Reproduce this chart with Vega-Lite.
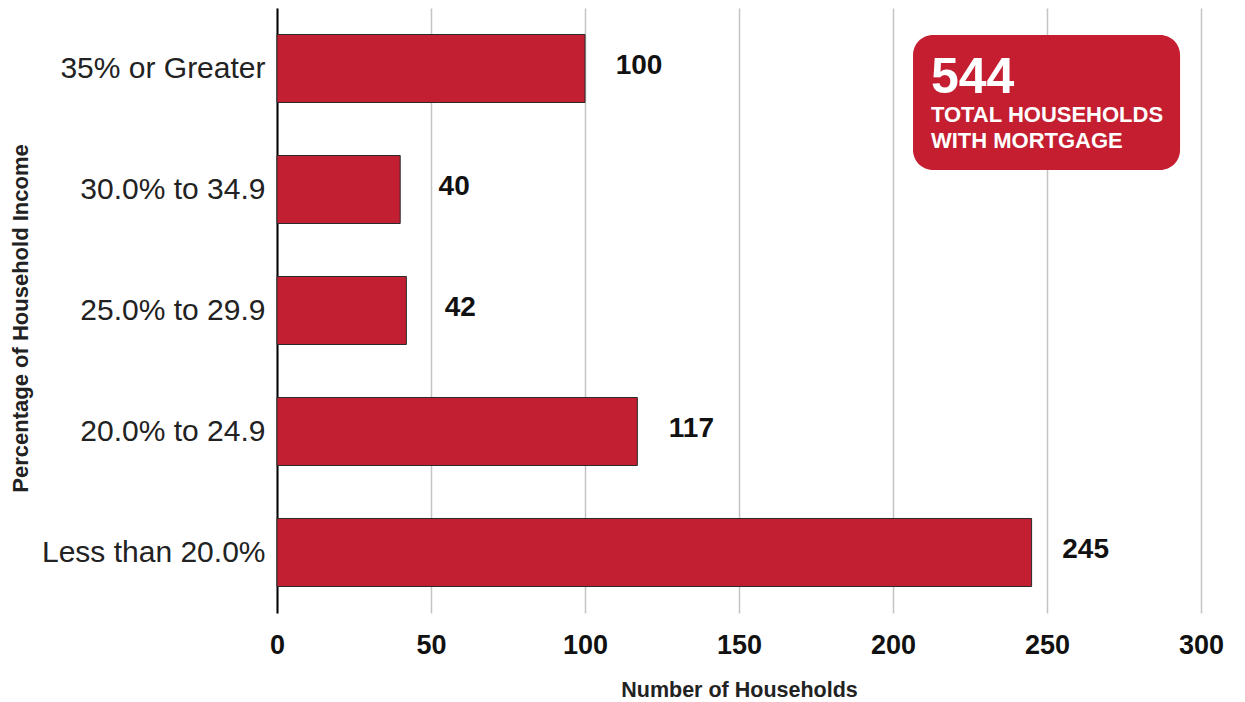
{
  "$schema": "https://vega.github.io/schema/vega-lite/v6.json",
  "width": 924,
  "height": 605,
  "autosize": {"type": "none"},
  "padding": {"left": 277, "top": 8, "right": 44, "bottom": 89},
  "background": "white",
  "config": {"view": {"stroke": null}, "font": "Liberation Sans"},
  "data": {
    "values": [
      {"range": "35% or Greater", "households": 100},
      {"range": "30.0% to 34.9", "households": 40},
      {"range": "25.0% to 29.9", "households": 42},
      {"range": "20.0% to 24.9", "households": 117},
      {"range": "Less than 20.0%", "households": 245}
    ]
  },
  "encoding": {
    "y": {
      "field": "range",
      "type": "nominal",
      "sort": ["35% or Greater", "30.0% to 34.9", "25.0% to 29.9", "20.0% to 24.9", "Less than 20.0%"],
      "scale": {"paddingInner": 0.438, "paddingOuter": 0.219},
      "axis": {
        "title": "Percentage of Household Income",
        "titleFontSize": 22,
        "titleFontWeight": "bold",
        "titleColor": "#222",
        "titleX": -257,
        "titleY": 310,
        "titleAngle": -90,
        "titleAlign": "center",
        "titleBaseline": "middle",
        "labelFontSize": 30,
        "labelFontWeight": "normal",
        "labelColor": "#222",
        "labelPadding": 12,
        "labelLimit": 0,
        "ticks": false,
        "domainColor": "#000",
        "domainWidth": 2
      }
    },
    "x": {
      "field": "households",
      "type": "quantitative",
      "scale": {"domain": [0, 300], "nice": false, "zero": true},
      "axis": {
        "title": "Number of Households",
        "titleFontSize": 21.5,
        "titleFontWeight": "bold",
        "titleColor": "#222",
        "titleY": 77,
        "titleBaseline": "middle",
        "labelFontSize": 27,
        "labelFontWeight": "bold",
        "labelColor": "#111",
        "labelPadding": 19,
        "labelFlush": false,
        "ticks": false,
        "domain": false,
        "grid": true,
        "gridColor": "#c4c4c4",
        "gridWidth": 1.5,
        "values": [0, 50, 100, 150, 200, 250, 300]
      }
    }
  },
  "layer": [
    {
      "mark": {"type": "bar", "color": "#C21F32", "stroke": "#2a2a2a", "strokeWidth": 1}
    },
    {
      "mark": {"type": "text", "align": "center", "baseline": "middle", "dx": 54, "dy": -3, "fontSize": 28, "fontWeight": "bold", "color": "#111"},
      "encoding": {"text": {"field": "households", "type": "quantitative"}}
    },
    {
      "data": {"values": [{"range": "35% or Greater", "households": 206.5, "end": 293.2}]},
      "mark": {"type": "rect", "color": "#C41E30", "cornerRadius": 20, "height": 135, "yOffset": 34},
      "encoding": {"x2": {"field": "end"}}
    },
    {
      "data": {"values": [{"range": "35% or Greater", "households": 212.3, "label": "544"}]},
      "mark": {"type": "text", "align": "left", "baseline": "alphabetic", "dy": 24, "fontSize": 50, "fontWeight": "bold", "color": "white"},
      "encoding": {"text": {"field": "label"}}
    },
    {
      "data": {"values": [{"range": "35% or Greater", "households": 212.3, "label": "TOTAL HOUSEHOLDS"}]},
      "mark": {"type": "text", "align": "left", "baseline": "alphabetic", "dy": 53, "fontSize": 22, "fontWeight": "bold", "color": "white"},
      "encoding": {"text": {"field": "label"}}
    },
    {
      "data": {"values": [{"range": "35% or Greater", "households": 212.3, "label": "WITH MORTGAGE"}]},
      "mark": {"type": "text", "align": "left", "baseline": "alphabetic", "dy": 79.5, "fontSize": 22, "fontWeight": "bold", "color": "white"},
      "encoding": {"text": {"field": "label"}}
    }
  ]
}
